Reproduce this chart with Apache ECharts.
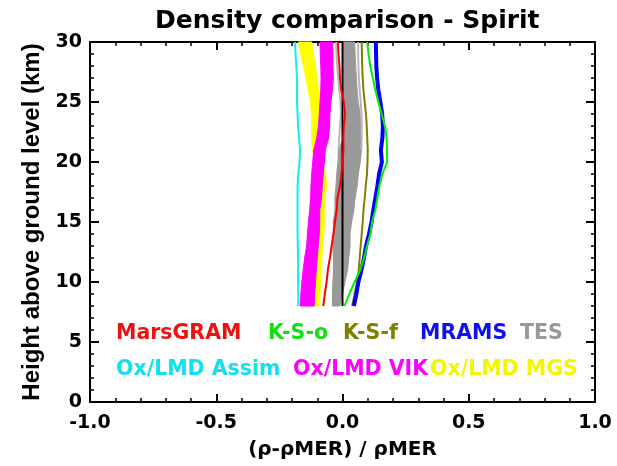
<!DOCTYPE html>
<html>
<head>
<meta charset="utf-8">
<script src="https://cdn.jsdelivr.net/npm/echarts@6/dist/echarts.min.js"></script>
<style>
  html, body {margin: 0; padding: 0; background: #fff;}
  #chart {width: 617px; height: 466px;}
</style>
</head>
<body>
<div id="chart"></div>
<script>
  // heights (km) shared by every profile, bottom to top
  var heights = [8, 9, 10, 11, 12, 13, 14, 15, 16, 17, 18, 19, 20, 21, 22, 23, 24, 25, 26, 27, 28, 29, 30];

  // (rho - rhoMER) / rhoMER for each model
  var marsgram = [-0.076, -0.070, -0.063, -0.058, -0.050, -0.043, -0.036, -0.030, -0.023, -0.020, -0.010, -0.004, 0.000, 0.004, 0.003, 0.005, 0.010, 0.005, -0.005, -0.010, -0.012, -0.016, -0.018];
  var kso = [0.008, 0.027, 0.048, 0.070, 0.085, 0.097, 0.110, 0.117, 0.130, 0.138, 0.146, 0.158, 0.177, 0.176, 0.175, 0.168, 0.155, 0.142, 0.130, 0.120, 0.110, 0.103, 0.098];
  var ksf = [0.038, 0.048, 0.058, 0.064, 0.068, 0.072, 0.076, 0.080, 0.083, 0.088, 0.092, 0.097, 0.099, 0.100, 0.098, 0.096, 0.093, 0.088, 0.083, 0.080, 0.078, 0.077, 0.076];
  var mrams = [0.045, 0.055, 0.063, 0.075, 0.085, 0.093, 0.105, 0.115, 0.122, 0.130, 0.138, 0.145, 0.156, 0.152, 0.158, 0.160, 0.157, 0.150, 0.142, 0.137, 0.134, 0.133, 0.132];
  var assim = [-0.175, -0.175, -0.176, -0.176, -0.176, -0.177, -0.178, -0.178, -0.178, -0.178, -0.178, -0.175, -0.170, -0.168, -0.172, -0.176, -0.178, -0.180, -0.180, -0.180, -0.183, -0.186, -0.188];

  // bands: left and right edge
  var vikLeft = [-0.168, -0.165, -0.161, -0.156, -0.150, -0.142, -0.139, -0.135, -0.130, -0.126, -0.125, -0.122, -0.118, -0.114, -0.102, -0.095, -0.092, -0.089, -0.086, -0.085, -0.086, -0.088, -0.089];
  var vikRight = [-0.112, -0.110, -0.107, -0.104, -0.100, -0.096, -0.092, -0.090, -0.090, -0.083, -0.080, -0.076, -0.072, -0.068, -0.055, -0.051, -0.050, -0.046, -0.040, -0.036, -0.038, -0.038, -0.039];
  var mgsLeft = [-0.113, -0.110, -0.107, -0.104, -0.100, -0.096, -0.093, -0.092, -0.091, -0.089, -0.090, -0.095, -0.105, -0.120, -0.122, -0.122, -0.122, -0.127, -0.136, -0.145, -0.155, -0.165, -0.175];
  var mgsRight = [-0.090, -0.089, -0.087, -0.085, -0.082, -0.079, -0.074, -0.072, -0.072, -0.070, -0.063, -0.066, -0.080, -0.100, -0.100, -0.095, -0.088, -0.088, -0.095, -0.101, -0.108, -0.115, -0.122];
  var tesLeft = [-0.040, -0.040, -0.038, -0.036, -0.036, -0.038, -0.036, -0.036, -0.030, -0.030, -0.026, -0.023, -0.018, -0.016, 0.004, 0.006, 0.008, 0.006, 0.004, 0.003, 0.002, 0.002, 0.002];
  var tesRight = [-0.010, 0.000, 0.010, 0.020, 0.025, 0.030, 0.030, 0.036, 0.045, 0.050, 0.058, 0.063, 0.070, 0.075, 0.075, 0.074, 0.070, 0.062, 0.058, 0.055, 0.052, 0.050, 0.048];

  // extra thin TES profiles in the upper part
  var tesUpperH = [21, 22, 23, 24, 25, 26, 27, 28, 29, 30];
  var tesThinLeft = [-0.016, -0.013, -0.010, -0.006, -0.008, -0.013, -0.017, -0.021, -0.024, -0.025];
  var tesThinRight = [0.075, 0.076, 0.076, 0.075, 0.072, 0.068, 0.065, 0.063, 0.062, 0.062];

  var merH = [8, 30];
  var merX = [0, 0];

  var xTicks = [-1.0, -0.5, 0.0, 0.5, 1.0];

  function pairs(xs, hs) {
    return xs.map(function (x, i) { return [x, hs[i]]; });
  }

  function lineSeries(name, xs, hs, color, width) {
    return {
      name: name,
      type: 'line',
      data: pairs(xs, hs),
      showSymbol: false,
      symbol: 'none',
      lineStyle: {color: color, width: width},
      silent: true
    };
  }

  function bandSeries(name, left, right, color) {
    return {
      name: name,
      type: 'custom',
      data: [[left[0], heights[0]]],
      silent: true,
      renderItem: function (params, api) {
        var pts = [];
        for (var i = 0; i < heights.length; i++) {
          pts.push(api.coord([left[i], heights[i]]));
        }
        for (var j = heights.length - 1; j >= 0; j--) {
          pts.push(api.coord([right[j], heights[j]]));
        }
        return {type: 'polygon', shape: {points: pts}, style: {fill: color, stroke: color, lineWidth: 1}};
      }
    };
  }

  var font = 'DejaVu Sans';
  var tickFont = {fontFamily: font, fontWeight: 'bold', fontSize: 19, color: '#000'};

  function xAxisBase(pos, labels) {
    return {
      type: 'value', position: pos, min: xTicks[0], max: xTicks[xTicks.length - 1], interval: 0.5,
      axisLine: {show: true, onZero: false, lineStyle: {color: '#000', width: 2}},
      axisTick: {show: true, inside: true, length: 8, lineStyle: {color: '#000', width: 2}},
      minorTick: {show: true, splitNumber: 5, length: 4, lineStyle: {color: '#000', width: 1.5}},
      splitLine: {show: false},
      axisLabel: labels ? Object.assign({margin: 12, formatter: function (v) { return v.toFixed(1); }}, tickFont) : {show: false}
    };
  }

  function yAxisBase(pos, labels) {
    return {
      type: 'value', position: pos, min: 0, max: 30, interval: 5,
      axisLine: {show: true, onZero: false, lineStyle: {color: '#000', width: 2}},
      axisTick: {show: true, inside: true, length: 9, lineStyle: {color: '#000', width: 2}},
      minorTick: {show: true, splitNumber: 5, length: 4, lineStyle: {color: '#000', width: 1.5}},
      splitLine: {show: false},
      axisLabel: labels ? Object.assign({margin: 8}, tickFont) : {show: false}
    };
  }

  var xBottom = xAxisBase('bottom', true);
  xBottom.name = '(\u03c1-\u03c1MER) / \u03c1MER';
  xBottom.nameLocation = 'middle';
  xBottom.nameGap = 38;
  xBottom.nameTextStyle = {fontFamily: font, fontWeight: 'bold', fontSize: 20, color: '#000'};

  var yLeft = yAxisBase('left', true);
  yLeft.name = 'Height above ground level (km)';
  yLeft.nameLocation = 'middle';
  yLeft.nameGap = 46;
  yLeft.nameTextStyle = {fontFamily: 'Liberation Sans', fontWeight: 'bold', fontSize: 24, color: '#000'};

  var legendRows = [
    {text: 'MarsGRAM', x: 116, y: 334, color: '#ee1111'},
    {text: 'K-S-o', x: 268, y: 334, color: '#11e011'},
    {text: 'K-S-f', x: 343, y: 334, color: '#808000'},
    {text: 'MRAMS', x: 420, y: 334, color: '#1010ee'},
    {text: 'TES', x: 520, y: 334, color: '#999999'},
    {text: 'Ox/LMD Assim', x: 116, y: 370, color: '#11e0ee'},
    {text: 'Ox/LMD VIK', x: 293, y: 370, color: '#ff00ff'},
    {text: 'Ox/LMD MGS', x: 430, y: 370, color: '#f5f500'}
  ];

  var chart = echarts.init(document.getElementById('chart'));
  var option = {
    backgroundColor: '#fff',
    animation: false,
    title: {
      text: 'Density comparison - Spirit',
      left: 150,
      top: 4,
      textStyle: {fontFamily: font, fontWeight: 'bold', fontSize: 25, color: '#000'}
    },
    grid: {left: 90, right: 22, top: 42, bottom: 64},
    xAxis: [xBottom, xAxisBase('top', false)],
    yAxis: [yLeft, yAxisBase('right', false)],
    graphic: legendRows.map(function (r) {
      return {
        type: 'text', x: r.x, y: r.y, silent: true,
        style: {text: r.text, fill: r.color, font: 'bold 20.5px "DejaVu Sans"', textVerticalAlign: 'middle'}
      };
    }),
    series: [
      bandSeries('TES', tesLeft, tesRight, '#999999'),
      lineSeries('TES thin', tesThinLeft, tesUpperH, '#b8b8b8', 2),
      lineSeries('TES thin 2', tesThinRight, tesUpperH, '#b8b8b8', 2),
      bandSeries('Ox/LMD MGS', mgsLeft, mgsRight, '#ffff00'),
      bandSeries('Ox/LMD VIK', vikLeft, vikRight, '#ff00ff'),
      lineSeries('Ox/LMD Assim', assim, heights, '#11eeee', 2),
      lineSeries('MER', merX, merH, '#000000', 2),
      lineSeries('MarsGRAM', marsgram, heights, '#ff0000', 2),
      lineSeries('K-S-f', ksf, heights, '#808000', 2),
      lineSeries('MRAMS', mrams, heights, '#0000ff', 4),
      lineSeries('K-S-o', kso, heights, '#00ee00', 2)
    ]
  };
  chart.setOption(option);
</script>
</body>
</html>
